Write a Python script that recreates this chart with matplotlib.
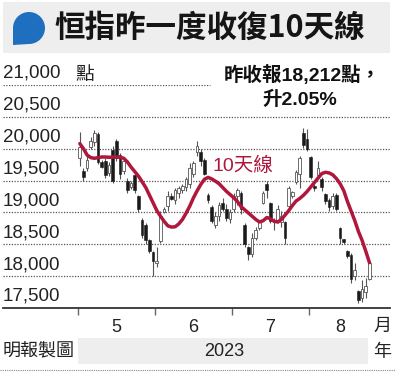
import numpy as np
import matplotlib
matplotlib.use('Agg')
import matplotlib.pyplot as plt
import matplotlib.transforms as mtransforms
from matplotlib.patches import Rectangle, Circle, Polygon

plt.rcParams['font.family'] = ['Liberation Sans', 'Noto Sans CJK TC', 'DejaVu Sans']

# daily OHLC of the index, May - Aug 2023
opens = [19850, 19650, 19700, 20020, 20100, 20230, 19790, 19800, 19620, 19980,
         20120, 19900, 19650, 19500, 19400, 19580, 19250, 18880, 18800, 18560,
         18380,
         18200, 18550, 19000, 19100, 19250, 19200, 19300, 19350, 19400, 19450,
         19600, 19950, 19950, 19830, 19280, 19090, 18800, 18950, 19150, 19050,
         18900,
         19050, 19250, 19300, 18800, 18450, 18350, 18600, 18750, 19150, 19450,
         19150, 18850, 18880, 18850, 18850, 19100, 19250, 19480, 19600, 20250,
         20150,
         19870, 19420, 19580, 19520, 19290, 19200, 19100, 19280, 18750, 18580,
         18400, 18330, 18000, 17760, 17650, 17750, 17950]
highs = [20260, 19700, 19880, 20180, 20290, 20260, 19820, 19850, 19790, 20050,
         20160, 19940, 19850, 19540, 19500, 19610, 19270, 18910, 18840, 18590,
         18400,
         18450, 19030, 19080, 19340, 19300, 19390, 19420, 19450, 19550, 19770,
         19810, 20120, 20000, 19850, 19300, 19110, 19000, 19160, 19220, 19140,
         19060,
         19300, 19390, 19340, 18830, 18480, 18670, 18770, 18880, 19340, 19500,
         19160, 18920, 19110, 19030, 18870, 19420, 19340, 19660, 19890, 20330,
         20310,
         19890, 19450, 19810, 19550, 19310, 19230, 19300, 19300, 18770, 18590,
         18410, 18360, 18200, 17780, 17940, 17970, 18220]
lows = [19730, 19500, 19650, 19990, 20040, 19760, 19700, 19540, 19570, 19460,
        19800, 19530, 19600, 19310, 19370, 19310, 19000, 18600, 18510, 18360,
        18010,
        18140, 18520, 18990, 19030, 19190, 19140, 19230, 19300, 19340, 19390,
        19550, 19890, 19730, 19580, 19150, 18830, 18750, 18870, 19030, 18870,
        18830,
        19000, 19110, 18980, 18450, 18250, 18300, 18560, 18720, 19140, 19230,
        18830, 18720, 18830, 18770, 18510, 19080, 19230, 19450, 19390, 20010,
        19970,
        19530, 19340, 19550, 19340, 19140, 19030, 19060, 19030, 18510, 18510,
        18280, 17890, 17940, 17580, 17590, 17660, 17940]
closes = [20020, 19560, 19830, 20120, 20250, 19790, 19720, 19580, 19740, 19500,
          19850, 19600, 19800, 19350, 19460, 19350, 19050, 18650, 18560, 18400,
          18230,
          18230, 18950, 19060, 19250, 19210, 19350, 19390, 19410, 19520, 19700,
          19780, 20050, 19800, 19600, 19200, 18860, 18950, 19120, 19060, 18920,
          19000,
          19250, 19350, 19050, 18500, 18350, 18600, 18720, 18850, 19300, 19350,
          18870, 18880, 19050, 18950, 18600, 19380, 19320, 19630, 19850, 20060,
          20000,
          19560, 19380, 19700, 19400, 19180, 19080, 19250, 19060, 18600, 18540,
          18320, 17950, 18100, 17620, 17800, 17850, 18212]
# 10-day moving average as drawn
ma10 = [20080, 20000, 19900, 19860, 19850, 19860, 19870, 19870, 19865, 19870,
        19870, 19865, 19850, 19790, 19710, 19640, 19570, 19480, 19390, 19270,
        19150, 19030, 18940, 18860, 18790, 18770, 18775, 18820, 18890, 18990,
        19100, 19230, 19340, 19440, 19520, 19550, 19525, 19490, 19450, 19390,
        19330, 19280, 19230, 19170, 19090, 19040, 18990, 18940, 18890, 18850,
        18870, 18920, 18900, 18860, 18850, 18890, 18960, 19030, 19110, 19180,
        19220, 19270, 19330, 19400, 19470, 19540, 19610, 19630, 19620, 19590,
        19530, 19450, 19340, 19170, 19020, 18870, 18700, 18560, 18390, 18212]

months = ['5', '6', '7', '8']
month_days = [21, 21, 21, 17]
yticks = [17500, 18000, 18500, 19000, 19500, 20000, 20500, 21000]

W, H = 395, 374
fig = plt.figure(figsize=(W / 100, H / 100), dpi=100)

# background axes in pixel units for the furniture
bg = fig.add_axes([0, 0, 1, 1])
bg.set_xlim(0, W)
bg.set_ylim(H, 0)
bg.axis('off')

red = '#b0173c'
blue = '#1f6fc1'

# title bar
bg.add_patch(Rectangle((3, 2), 387, 51, color='#eeeeee', lw=0))
bg.add_patch(Circle((29, 28), 16, color=blue, lw=0))
bg.add_patch(Polygon([(13, 28), (29, 28), (29, 44), (13, 45)], closed=True, color=blue, lw=0))
bg.text(54, 28, '恒指昨一度收復10天線', fontsize=22, fontweight='bold',
        family=['Noto Sans CJK TC'], va='center', ha='left', color='#151515')

# main chart
ax = fig.add_axes([3 / W, 1 - 308 / H, 387 / W, 223 / H])
ax.set_facecolor('none')
x = np.arange(len(closes))
ax.set_xlim(-20.95, 84.6)
ax.set_ylim(17500, 21000)

for s in ['top', 'right', 'left']:
    ax.spines[s].set_visible(False)
ax.spines['bottom'].set_color('#333333')
ax.spines['bottom'].set_linewidth(1.3)

# dotted grid
for v in yticks[1:]:
    xmax = 35.5 if v == 21000 else 84.6
    ax.hlines(v, -20.95, xmax, colors='#555555', linestyles=(0, (1, 1.2)), lw=0.9, zorder=1)

o = np.array(opens)
c = np.array(closes)
up = c >= o
ax.vlines(x, lows, highs, colors='#555555', lw=0.8, zorder=2)
ax.bar(x[up], (c - o)[up], bottom=o[up], width=0.72, color='white',
       edgecolor='#555555', lw=0.6, zorder=3)
ax.bar(x[~up], (o - c)[~up], bottom=c[~up], width=0.72, color='#1a1a1a',
       edgecolor='#1a1a1a', lw=0.4, zorder=3)

ax.plot(x, ma10, color=red, lw=2.5, solid_capstyle='round', zorder=4)
ax.text(44.5, 19734, '10天線', color=red, fontsize=14, ha='center', va='center')

# y labels sit just above their grid lines
trans = mtransforms.offset_copy(mtransforms.blended_transform_factory(ax.transAxes, ax.transData),
                                fig=fig, x=0, y=3, units='dots')
for v in yticks:
    ax.text(0, v, f'{v:,}', transform=trans, fontsize=13.5, ha='left', va='bottom',
            color='#222222', clip_on=False)
bg.text(75, 75, '點', fontsize=13.5, va='center', ha='left', color='#222222')

# month ticks and labels
bounds = np.cumsum([0] + month_days) - 0.5
ax.set_yticks([])
ax.set_xticks(bounds[:-1])
ax.set_xticklabels([])
ax.tick_params(axis='x', direction='out', length=5, width=1, color='#666666')
starts = np.cumsum([0] + month_days)[:-1]
for m, s0, n in zip(months, starts, month_days):
    ax.text(s0 + (n - 1) / 2, 17500, m, fontsize=13, ha='center', va='top',
            transform=mtransforms.offset_copy(ax.transData, fig=fig, y=-11, units='dots'),
            color='#222222')
bg.text(382, 326, '月', fontsize=13, ha='center', va='center', color='#222222')

# closing note
bg.text(302, 75, '昨收報18,212點，', fontsize=14, fontweight='bold', ha='center',
        va='center', color='#111111')
bg.text(300, 100, '升2.05%', fontsize=14, fontweight='bold', ha='center',
        va='center', color='#111111')

# footer
bg.add_patch(Rectangle((78, 338), 290, 26, color='#eeeeee', lw=0))
bg.text(224, 352, '2023', fontsize=13, ha='center', va='center', color='#222222')
bg.text(3, 352, '明報製圖', fontsize=13, ha='left', va='center', color='#222222')
bg.text(382, 352, '年', fontsize=13, ha='center', va='center', color='#222222')
bg.plot([0, 395], [370, 370], color='#888888', ls=(0, (1, 1)), lw=0.8)

fig.savefig('out.png', dpi=100)
